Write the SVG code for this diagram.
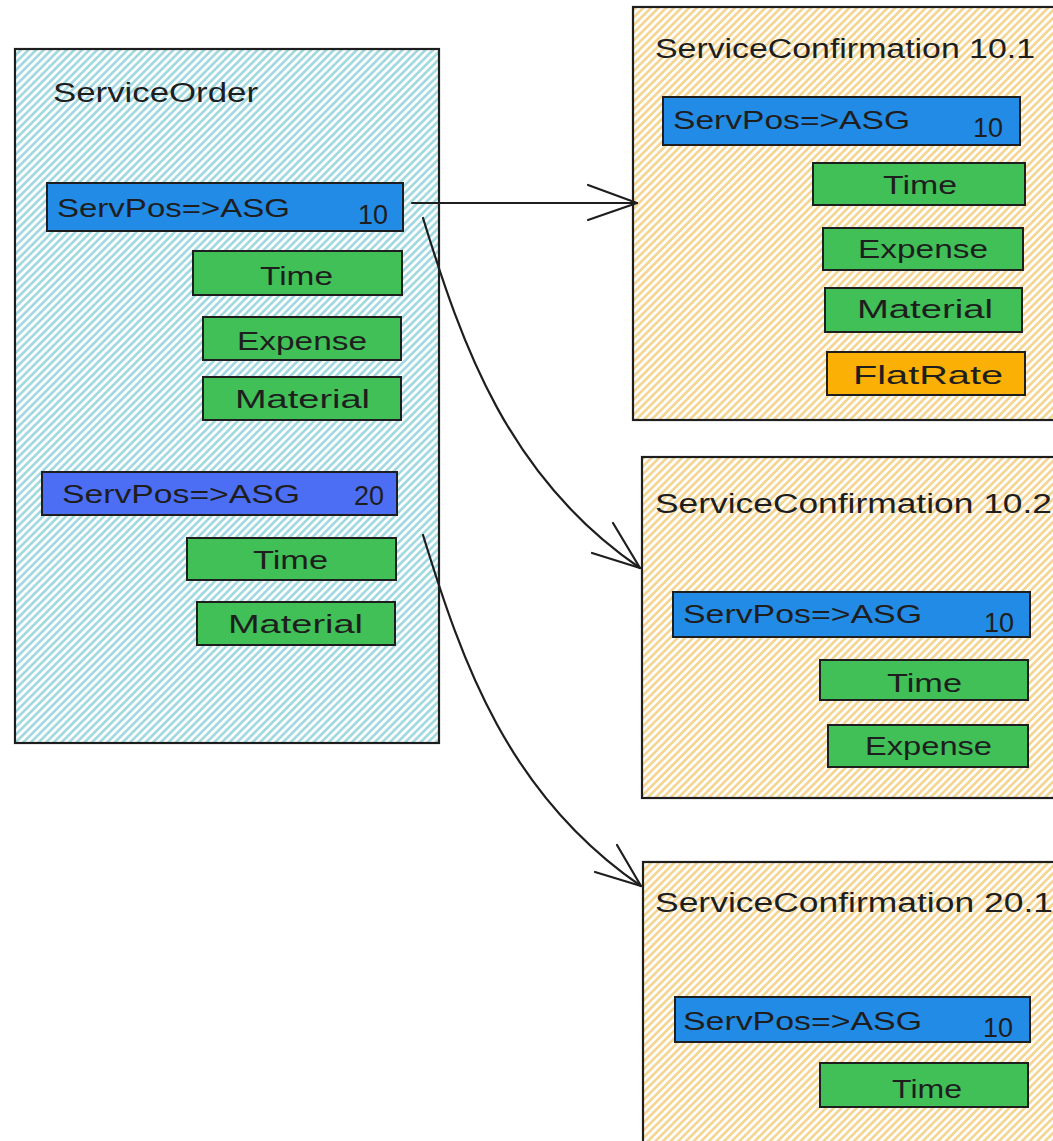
<svg xmlns="http://www.w3.org/2000/svg" width="1053" height="1141" viewBox="0 0 1053 1141">
  <defs>
    <!-- diagonal hatch fills for the container boxes -->
    <pattern id="hatchCyan" patternUnits="userSpaceOnUse" width="5.4" height="5.4" patternTransform="rotate(45)">
      <rect width="5.4" height="5.4" fill="#ffffff"/>
      <line x1="1.4" y1="0" x2="1.4" y2="5.4" stroke="#9fd8e0" stroke-width="2.6"/>
    </pattern>
    <pattern id="hatchYellow" patternUnits="userSpaceOnUse" width="5.4" height="5.4" patternTransform="rotate(45)">
      <rect width="5.4" height="5.4" fill="#ffffff"/>
      <line x1="1.4" y1="0" x2="1.4" y2="5.4" stroke="#f4d48f" stroke-width="2.6"/>
    </pattern>
  </defs>
  <style>
    .box { stroke: #1e1e1e; stroke-width: 2.2; }
    .order { fill: url(#hatchCyan); }
    .conf { fill: url(#hatchYellow); }
    .bar { stroke: #1e1e1e; stroke-width: 2; }
    .pos { fill: #228be6; }
    .pos2 { fill: #4c6ef5; }
    .item { fill: #40c057; }
    .flat { fill: #fab005; }
    text { font-family: "Liberation Sans", Arial, sans-serif; fill: #1e1e1e; }
    .title { font-size: 27px; }
    .lbl { font-size: 25px; }
    .num { font-size: 27px; }
    .conn { fill: none; stroke: #1e1e1e; stroke-width: 2.2; stroke-linecap: round; stroke-linejoin: round; }
  </style>

  <rect width="1053" height="1141" fill="#ffffff"/>

  <!-- ServiceOrder -->
  <g id="service-order">
    <rect class="box order" x="15" y="49" width="424" height="694"/>
    <text class="title" x="53" y="102" textLength="205" lengthAdjust="spacingAndGlyphs">ServiceOrder</text>
    <g id="so-pos10">
      <rect class="bar pos" x="47" y="183" width="356" height="48"/>
      <text class="lbl" x="57" y="217" textLength="233" lengthAdjust="spacingAndGlyphs">ServPos=&gt;ASG</text>
      <text class="num" x="358" y="224">10</text>
    </g>
    <g id="so-pos10-time">
      <rect class="bar item" x="193" y="251" width="209" height="44"/>
      <text class="lbl" x="260" y="285" textLength="73" lengthAdjust="spacingAndGlyphs">Time</text>
    </g>
    <g id="so-pos10-expense">
      <rect class="bar item" x="203" y="317" width="198" height="43"/>
      <text class="lbl" x="237" y="350" textLength="130" lengthAdjust="spacingAndGlyphs">Expense</text>
    </g>
    <g id="so-pos10-material">
      <rect class="bar item" x="203" y="377" width="198" height="43"/>
      <text class="lbl" x="235" y="408" textLength="135" lengthAdjust="spacingAndGlyphs">Material</text>
    </g>
    <g id="so-pos20">
      <rect class="bar pos2" x="42" y="472" width="355" height="43"/>
      <text class="lbl" x="62" y="503" textLength="238" lengthAdjust="spacingAndGlyphs">ServPos=&gt;ASG</text>
      <text class="num" x="354" y="505">20</text>
    </g>
    <g id="so-pos20-time">
      <rect class="bar item" x="187" y="538" width="209" height="42"/>
      <text class="lbl" x="253" y="569" textLength="75" lengthAdjust="spacingAndGlyphs">Time</text>
    </g>
    <g id="so-pos20-material">
      <rect class="bar item" x="197" y="602" width="198" height="43"/>
      <text class="lbl" x="228" y="633" textLength="135" lengthAdjust="spacingAndGlyphs">Material</text>
    </g>
  </g>

  <!-- ServiceConfirmation 10.1 -->
  <g id="conf-10-1">
    <rect class="box conf" x="633" y="7" width="440" height="413"/>
    <text class="title" x="655" y="58" textLength="380" lengthAdjust="spacingAndGlyphs">ServiceConfirmation 10.1</text>
    <g id="c101-pos">
      <rect class="bar pos" x="663" y="97" width="357" height="48"/>
      <text class="lbl" x="673" y="129" textLength="237" lengthAdjust="spacingAndGlyphs">ServPos=&gt;ASG</text>
      <text class="num" x="973" y="137">10</text>
    </g>
    <g id="c101-time">
      <rect class="bar item" x="813" y="163" width="212" height="42"/>
      <text class="lbl" x="883" y="194" textLength="74" lengthAdjust="spacingAndGlyphs">Time</text>
    </g>
    <g id="c101-expense">
      <rect class="bar item" x="823" y="228" width="200" height="42"/>
      <text class="lbl" x="858" y="258" textLength="130" lengthAdjust="spacingAndGlyphs">Expense</text>
    </g>
    <g id="c101-material">
      <rect class="bar item" x="825" y="288" width="197" height="44"/>
      <text class="lbl" x="857" y="318" textLength="136" lengthAdjust="spacingAndGlyphs">Material</text>
    </g>
    <g id="c101-flatrate">
      <rect class="bar flat" x="827" y="352" width="198" height="43"/>
      <text class="lbl" x="853" y="384" textLength="150" lengthAdjust="spacingAndGlyphs">FlatRate</text>
    </g>
  </g>

  <!-- ServiceConfirmation 10.2 -->
  <g id="conf-10-2">
    <rect class="box conf" x="642" y="457" width="430" height="341"/>
    <text class="title" x="655" y="513" textLength="397" lengthAdjust="spacingAndGlyphs">ServiceConfirmation 10.2</text>
    <g id="c102-pos">
      <rect class="bar pos" x="673" y="592" width="357" height="45"/>
      <text class="lbl" x="683" y="623" textLength="239" lengthAdjust="spacingAndGlyphs">ServPos=&gt;ASG</text>
      <text class="num" x="984" y="632">10</text>
    </g>
    <g id="c102-time">
      <rect class="bar item" x="820" y="660" width="208" height="40"/>
      <text class="lbl" x="887" y="692" textLength="75" lengthAdjust="spacingAndGlyphs">Time</text>
    </g>
    <g id="c102-expense">
      <rect class="bar item" x="828" y="725" width="200" height="42"/>
      <text class="lbl" x="865" y="755" textLength="127" lengthAdjust="spacingAndGlyphs">Expense</text>
    </g>
  </g>

  <!-- ServiceConfirmation 20.1 -->
  <g id="conf-20-1">
    <rect class="box conf" x="643" y="862" width="430" height="300"/>
    <text class="title" x="655" y="912" textLength="398" lengthAdjust="spacingAndGlyphs">ServiceConfirmation 20.1</text>
    <g id="c201-pos">
      <rect class="bar pos" x="675" y="997" width="355" height="45"/>
      <text class="lbl" x="683" y="1030" textLength="239" lengthAdjust="spacingAndGlyphs">ServPos=&gt;ASG</text>
      <text class="num" x="983" y="1037">10</text>
    </g>
    <g id="c201-time">
      <rect class="bar item" x="820" y="1063" width="208" height="44"/>
      <text class="lbl" x="892" y="1098" textLength="70" lengthAdjust="spacingAndGlyphs">Time</text>
    </g>
  </g>

  <!-- connectors with open two-stroke arrowheads -->
  <g id="connectors">
    <path class="conn" d="M412,203 L637,203"/>
    <path class="conn" d="M588,185 L637,203 L588,220"/>

    <path class="conn" d="M423,218 C462,345 508,478 640,568"/>
    <path class="conn" d="M613,523 L640,568 L592,553"/>

    <path class="conn" d="M423,535 C462,662 508,795 641,886"/>
    <path class="conn" d="M617,845 L641,886 L595,872"/>
  </g>
</svg>
